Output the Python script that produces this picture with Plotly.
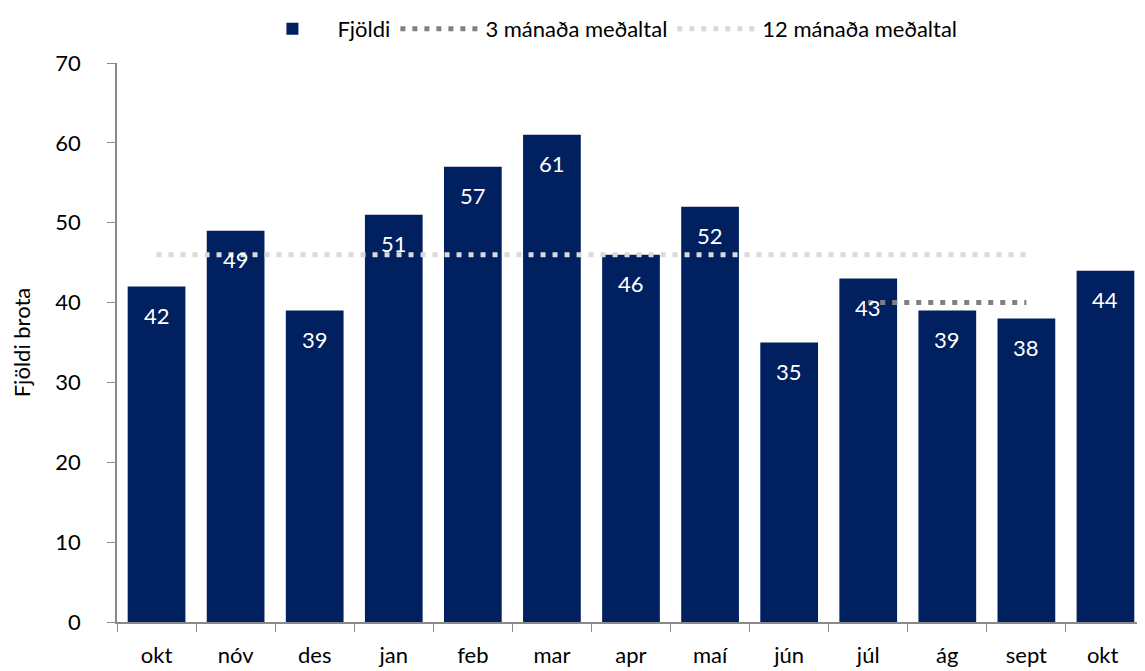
import plotly.graph_objects as go

months = ["okt", "nóv", "des", "jan", "feb", "mar", "apr", "maí", "jún", "júl", "ág", "sept", "okt "]
counts = [42, 49, 39, 51, 57, 61, 46, 52, 35, 43, 39, 38, 44]
avg_3m = [None, None, None, None, None, None, None, None, None, 40, 40, 40, None]
avg_12m = [46, 46, 46, 46, 46, 46, 46, 46, 46, 46, 46, 46, None]

FONT = "Lato"
NAVY = "#002060"
AXIS = "#898989"

fig = go.Figure()
fig.add_trace(go.Bar(
    x=months, y=counts, name="Fjöldi",
    marker=dict(color=NAVY, line=dict(width=0)),
    width=0.73,
))
fig.add_trace(go.Scatter(
    x=months, y=avg_3m, name="3 mánaða meðaltal", mode="lines",
    line=dict(color="#808080", width=5, dash="5px,7px"),
))
fig.add_trace(go.Scatter(
    x=months, y=avg_12m, name="12 mánaða meðaltal", mode="lines",
    line=dict(color="#d9d9d9", width=5, dash="5px,7px"),
))

for m, v in zip(months, counts):
    fig.add_annotation(
        x=m, y=v, text=str(v), showarrow=False, yshift=-29,
        font=dict(family=FONT, size=22, color="white"),
    )

# page body has an 8px margin, so the figure sits 8px in from the top-left
fig.update_layout(
    width=1137, height=663,
    plot_bgcolor="white", paper_bgcolor="white",
    margin=dict(l=109, r=0, t=55, b=49, autoexpand=False),
    font=dict(family=FONT, size=22, color="#000000"),
    showlegend=True,
    legend=dict(
        orientation="h", xref="container", x=0.525, xanchor="center",
        yref="container", y=1.0, yanchor="top",
        font=dict(size=22), traceorder="normal", itemwidth=80,
    ),
    xaxis=dict(
        showline=True, linecolor=AXIS, linewidth=1.5, automargin=False,
        ticks="outside", tickson="boundaries", ticklen=8, tickcolor=AXIS,
        ticklabelstandoff=13, showgrid=False,
    ),
    yaxis=dict(
        range=[0, 70], dtick=10, showline=True, linecolor=AXIS, linewidth=1.5,
        automargin=False, ticks="outside", ticklen=8, tickcolor=AXIS,
        ticklabelstandoff=22, showgrid=False, zeroline=False,
        title=dict(text="Fjöldi brota", font=dict(size=22), standoff=32),
    ),
)

fig.write_html("out.html")
